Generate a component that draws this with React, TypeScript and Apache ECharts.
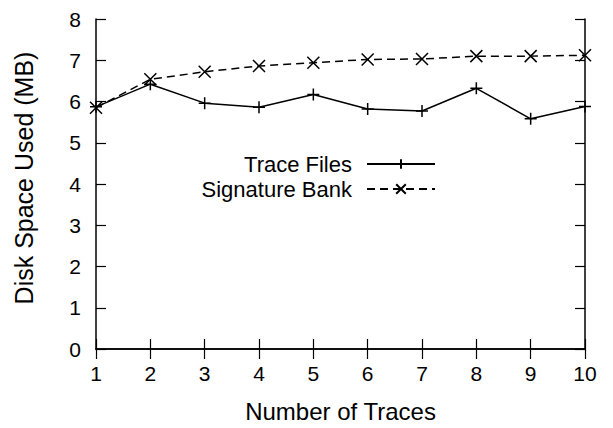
import React, { useEffect, useRef } from "react";
import * as echarts from "echarts";

const traces = [1, 2, 3, 4, 5, 6, 7, 8, 9, 10];
const traceFiles = [5.87, 6.42, 5.96, 5.86, 6.17, 5.82, 5.77, 6.32, 5.58, 5.88];
const signatureBank = [5.85, 6.54, 6.72, 6.86, 6.94, 7.02, 7.03, 7.1, 7.1, 7.12];
const seriesNames = ["Trace Files", "Signature Bank"];
const xTitle = "Number of Traces";
const yTitle = "Disk Space Used (MB)";

const FONT = "'Liberation Sans', Arial, Helvetica, sans-serif";

export default function App() {
  const ref = useRef<HTMLDivElement>(null);
  useEffect(() => {
    if (!ref.current) return;
    const chart = echarts.init(ref.current, undefined, { renderer: "svg" });
    const axisLine = { show: true, lineStyle: { color: "#000", width: 1.5 } };
    const axisTick = { show: true, inside: true, length: 10, lineStyle: { color: "#000", width: 1.2 } };
    const plus = "path://M0,-10 L0,10 M-10,0 L10,0";
    const cross = "path://M-10,-10 L10,10 M-10,10 L10,-10";
    const legendText = { fontFamily: FONT, fontSize: 22, color: "#000", padding: [0, 10, 0, 0] };
    chart.setOption({
      animation: false,
      textStyle: { fontFamily: FONT, color: "#000" },
      grid: { left: 96, right: 28, top: 19, bottom: 74, containLabel: false },
      graphic: [
        {
          type: "text",
          x: 24,
          y: 178,
          rotation: Math.PI / 2,
          style: {
            text: yTitle,
            fontFamily: FONT,
            fontSize: 25,
            fill: "#000",
            textAlign: "center",
            textVerticalAlign: "middle",
          },
        },
      ],
      legend: [
        {
          data: [seriesNames[0]],
          right: 172,
          top: 148,
          padding: [5, 5, 0, 5],
          align: "right",
          itemWidth: 68,
          itemHeight: 12,
          textStyle: legendText,
        },
        {
          data: [seriesNames[1]],
          right: 172,
          top: 173,
          padding: [5, 5, 0, 5],
          align: "right",
          itemWidth: 68,
          itemHeight: 12,
          textStyle: legendText,
        },
      ],
      xAxis: [
        {
          type: "value",
          min: 1,
          max: 10,
          interval: 1,
          position: "bottom",
          name: xTitle,
          nameLocation: "middle",
          nameGap: 50,
          nameTextStyle: { fontFamily: FONT, fontSize: 24, color: "#000" },
          axisLine,
          axisTick,
          splitLine: { show: false },
          axisLabel: { fontFamily: FONT, fontSize: 21, color: "#000", margin: 14 },
        },
        {
          type: "value",
          min: 1,
          max: 10,
          interval: 1,
          position: "top",
          axisLine,
          axisTick,
          splitLine: { show: false },
          axisLabel: { show: false },
        },
      ],
      yAxis: [
        {
          type: "value",
          min: 0,
          max: 8,
          interval: 1,
          position: "left",
          axisLine,
          axisTick,
          splitLine: { show: false },
          axisLabel: { fontFamily: FONT, fontSize: 21, color: "#000", margin: 15 },
        },
        {
          type: "value",
          min: 0,
          max: 8,
          interval: 1,
          position: "right",
          axisLine,
          axisTick,
          splitLine: { show: false },
          axisLabel: { show: false },
        },
      ],
      series: [
        {
          name: seriesNames[0],
          type: "line",
          data: traces.map((t, i) => [t, traceFiles[i]]),
          symbol: plus,
          symbolSize: 12,
          lineStyle: { color: "#000", width: 1.5, type: "solid" },
          itemStyle: { color: "none", borderColor: "#000", borderWidth: 1.5 },
          z: 3,
        },
        {
          name: seriesNames[1],
          type: "line",
          data: traces.map((t, i) => [t, signatureBank[i]]),
          symbol: cross,
          symbolSize: 12,
          lineStyle: { color: "#000", width: 1.5, type: [8, 5] },
          itemStyle: { color: "none", borderColor: "#000", borderWidth: 1.5 },
          z: 3,
        },
      ],
    });
    return () => chart.dispose();
  }, []);
  return <div ref={ref} style={{ width: 613, height: 428, position: "absolute", left: 0, top: 0 }} />;
}
